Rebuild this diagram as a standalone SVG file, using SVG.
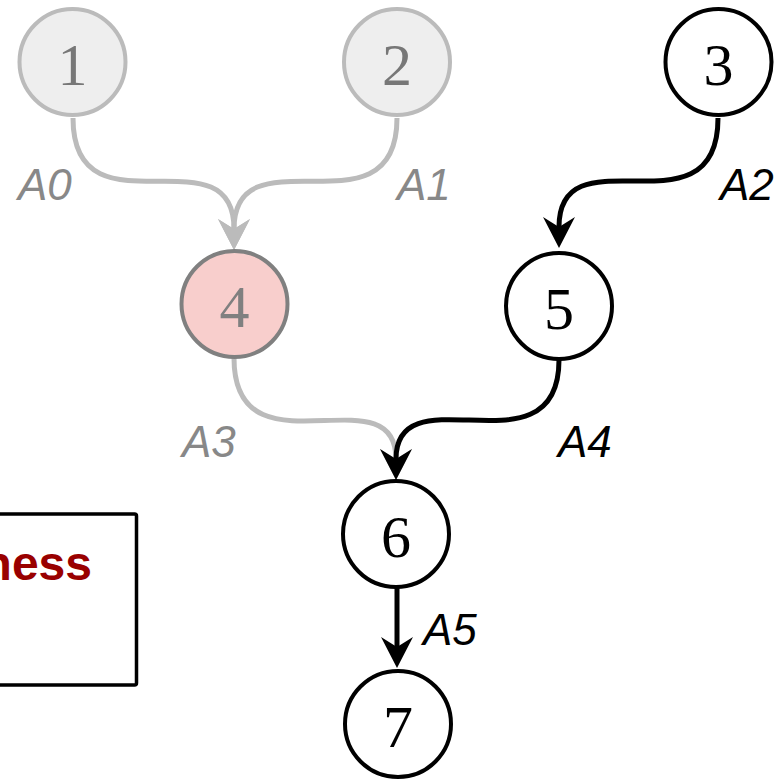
<svg xmlns="http://www.w3.org/2000/svg" width="784" height="781" viewBox="0 0 784 781">
<style>
.edge{fill:none;stroke-width:5}
.g{stroke:#bbbbbb}
.k{stroke:#000000}
.node circle{stroke-width:4}
.num{font-family:"Liberation Serif","Times New Roman",serif;font-size:60px;text-anchor:middle}
.lbl{font-family:"Liberation Sans",Arial,sans-serif;font-size:44px;font-style:italic}
.lg{fill:#888888}
.lk{fill:#000000}
</style>
<defs>
<marker id="ag" markerUnits="userSpaceOnUse" markerWidth="32" markerHeight="34" viewBox="0 -17 32 34" refX="10" refY="0" orient="auto">
<path d="M0,-16 L31,0 L0,16 L10,0 Z" fill="#bbbbbb"/>
</marker>
<marker id="ak" markerUnits="userSpaceOnUse" markerWidth="32" markerHeight="34" viewBox="0 -17 32 34" refX="10" refY="0" orient="auto">
<path d="M0,-16 L31,0 L0,16 L10,0 Z" fill="#000000"/>
</marker>
</defs>
<rect x="-10" y="514" width="146.5" height="171" rx="2" fill="#ffffff" stroke="#000000" stroke-width="3.5"/>
<text x="92" y="580" text-anchor="end" font-family="Liberation Sans,Arial,sans-serif" font-size="48" font-weight="bold" fill="#990000">ness</text>
<g id="connectors">
<path class="edge g" d="M73,118 C73,240 234,128 234,229" marker-end="url(#ag)"/>
<path class="edge g" d="M397,118 C397,240 234,128 234,229" marker-end="url(#ag)"/>
<path class="edge g" d="M234,358 C234,480 396,370 396,459" marker-end="url(#ag)"/>
<path class="edge k" d="M718,118 C718,240 559,128 559,227" marker-end="url(#ak)"/>
<path class="edge k" d="M559,360 C559,478 396,370 396,459" marker-end="url(#ak)"/>
<path class="edge k" d="M397,588 L397,647" marker-end="url(#ak)"/>
</g>
<g id="node1" class="node"><circle cx="72.5" cy="62" r="53" fill="#eeeeee" stroke="#bbbbbb"/><text class="num" x="72.5" y="85" fill="#777777">1</text></g>
<g id="node2" class="node"><circle cx="397" cy="62" r="53" fill="#eeeeee" stroke="#bbbbbb"/><text class="num" x="397" y="85" fill="#777777">2</text></g>
<g id="node3" class="node"><circle cx="718.5" cy="62" r="53" fill="#ffffff" stroke="#000000"/><text class="num" x="718.5" y="85" fill="#000000">3</text></g>
<g id="node4" class="node"><circle cx="234.5" cy="304" r="53" fill="#f8cecc" stroke="#808080"/><text class="num" x="234.5" y="327" fill="#808080">4</text></g>
<g id="node5" class="node"><circle cx="559" cy="306" r="53" fill="#ffffff" stroke="#000000"/><text class="num" x="559" y="329" fill="#000000">5</text></g>
<g id="node6" class="node"><circle cx="396" cy="534" r="53" fill="#ffffff" stroke="#000000"/><text class="num" x="396" y="557" fill="#000000">6</text></g>
<g id="node7" class="node"><circle cx="398" cy="724" r="53" fill="#ffffff" stroke="#000000"/><text class="num" x="398" y="747" fill="#000000">7</text></g>
<g id="labels">
<text class="lbl lg" x="18" y="200">A0</text>
<text class="lbl lg" x="397" y="200">A1</text>
<text class="lbl lk" x="720" y="200">A2</text>
<text class="lbl lg" x="182" y="457">A3</text>
<text class="lbl lk" x="558" y="457">A4</text>
<text class="lbl lk" x="423" y="645">A5</text>
</g>
</svg>
